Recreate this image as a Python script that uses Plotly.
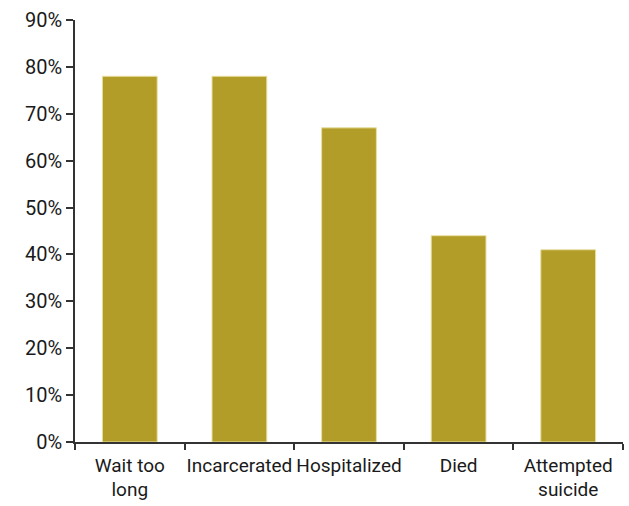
import plotly.graph_objects as go

categories = ["Wait too<br>long", "Incarcerated", "Hospitalized", "Died", "Attempted<br>suicide"]
values = [78, 78, 67, 44, 41]
tick_vals = [0, 10, 20, 30, 40, 50, 60, 70, 80, 90]
tick_text = [f"{v}%" for v in tick_vals]

fig = go.Figure(go.Bar(
    x=categories, y=values,
    marker=dict(color="#B39D29", line=dict(color="#E8DFA0", width=1)),
))

font_family = "Roboto, sans-serif"
fig.update_layout(
    width=629, height=506,
    margin=dict(l=75, r=6, t=20, b=64),
    plot_bgcolor="white", paper_bgcolor="white",
    bargap=0.5,
    showlegend=False,
    font=dict(family=font_family, size=20, color="#1a1a1a"),
)
fig.update_yaxes(
    range=[0, 90], tickvals=tick_vals, ticktext=tick_text,
    showgrid=False, zeroline=False, automargin=False,
    showline=True, linecolor="#333333", linewidth=1.5,
    ticks="outside", ticklen=7, tickcolor="#333333", tickwidth=1.5,
    tickfont=dict(size=20),
)
fig.update_xaxes(
    showgrid=False, showline=True, linecolor="#333333", linewidth=1.5,
    ticks="outside", tickson="boundaries", ticklen=6, tickcolor="#333333", tickwidth=1.5,
    tickfont=dict(size=19), tickangle=0, automargin=False, ticklabelstandoff=5,
)
fig.write_html("out.html")
